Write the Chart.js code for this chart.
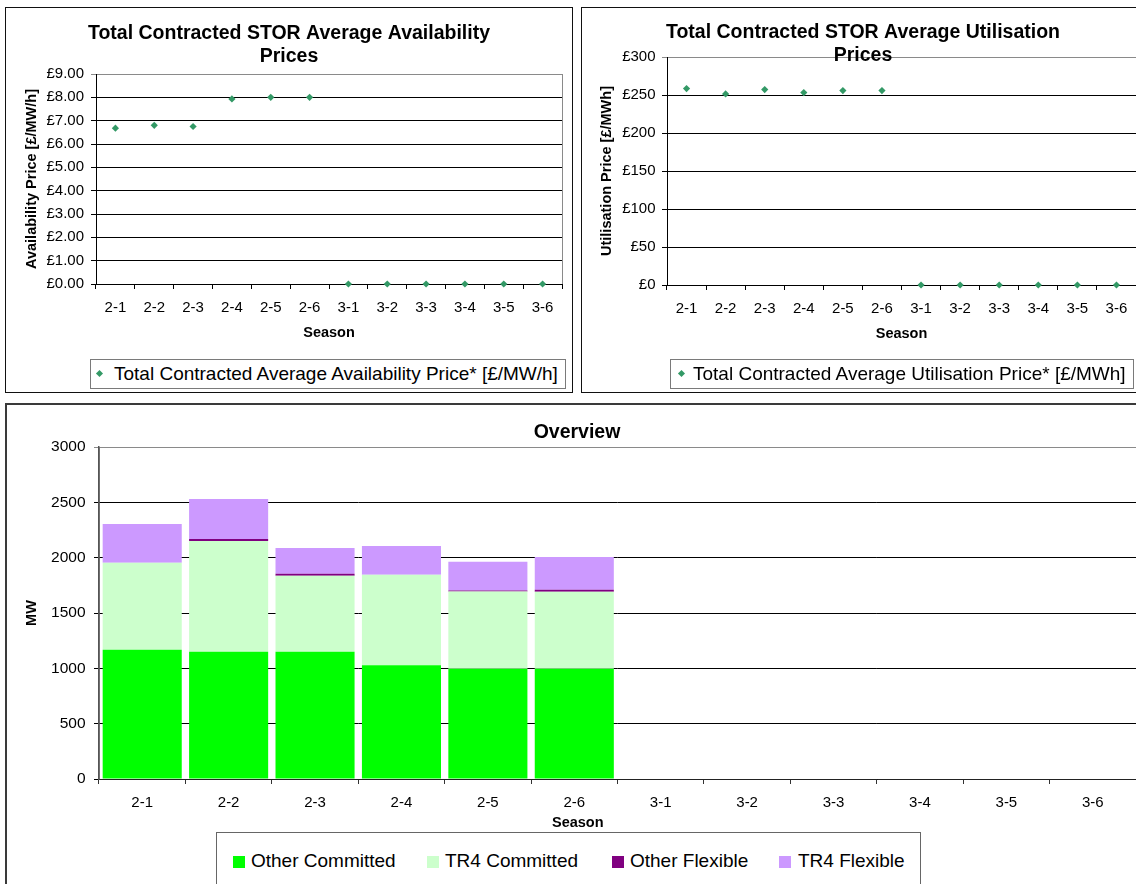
<!DOCTYPE html>
<html>
<head>
<meta charset="utf-8">
<script src="https://cdn.jsdelivr.net/npm/chart.js@4.4.1/dist/chart.umd.min.js"></script>
<style>
html,body{margin:0;padding:0;background:#fff;}
body{width:1136px;height:884px;overflow:hidden;position:relative;font-family:"Liberation Sans",Arial,Helvetica,sans-serif;color:#000;}
.frame{position:absolute;box-sizing:border-box;}
#frameA{left:5px;top:7px;width:568px;height:386px;border:1px solid #111;}
#frameB{left:581px;top:7px;width:580px;height:386px;border:1px solid #111;}
#frameC{left:5px;top:403px;width:1160px;height:500px;border:2px solid #3a3a3a;}
canvas{position:absolute;}
#cA{left:0;top:0;}
#cB{left:576px;top:0;}
#cC{left:0;top:400px;}
.leg{position:absolute;box-sizing:border-box;border:1px solid #7a7a7a;background:#fff;}
.legtxt{position:absolute;font-size:19px;line-height:22px;white-space:nowrap;}
.dia{position:absolute;width:5px;height:5px;background:#339966;transform:rotate(45deg);}
.sq{position:absolute;width:12px;height:12px;}
#seasonC{position:absolute;font-weight:bold;font-size:14.5px;line-height:18px;white-space:nowrap;}
</style>
</head>
<body>
<div class="frame" id="frameA"></div>
<div class="frame" id="frameB"></div>
<div class="frame" id="frameC"></div>

<canvas id="cA" width="576" height="396"></canvas>
<canvas id="cB" width="564" height="396"></canvas>
<canvas id="cC" width="1154" height="484"></canvas>

<div class="leg" id="legA" style="left:90px;top:359px;width:476px;height:30px;">
  <div class="dia" style="left:6px;top:11px;"></div>
  <div class="legtxt" id="legAtxt" style="left:23px;top:3px;"></div>
</div>
<div class="leg" id="legB" style="left:670px;top:359px;width:464px;height:30px;">
  <div class="dia" style="left:8px;top:11px;"></div>
  <div class="legtxt" id="legBtxt" style="left:22px;top:3px;"></div>
</div>
<div class="leg" id="legC" style="left:216px;top:832px;width:705px;height:70px;border-color:#666;">
</div>
<div id="seasonC" style="left:552px;top:813px;">Season</div>

<script>
// ---------------- DATA ----------------
const seasons = ['2-1','2-2','2-3','2-4','2-5','2-6','3-1','3-2','3-3','3-4','3-5','3-6'];

const availabilityPrice = [6.68, 6.80, 6.75, 7.93, 8.00, 8.00, 0, 0, 0, 0, 0, 0];
const utilisationPrice  = [258.4, 251.4, 257.1, 253.2, 255.8, 255.8, 0, 0, 0, 0, 0, 0];

const otherCommitted = [1168, 1150, 1150, 1027, 997, 997, 0, 0, 0, 0, 0, 0];
const tr4Committed   = [785, 1001, 686, 818, 697, 694, 0, 0, 0, 0, 0, 0];
const otherFlexible  = [0, 18, 18, 0, 9, 20, 0, 0, 0, 0, 0, 0];
const tr4Flexible    = [352, 361, 234, 261, 259, 295, 0, 0, 0, 0, 0, 0];

const titleA = ['Total Contracted STOR Average Availability', 'Prices'];
const titleB = ['Total Contracted STOR Average Utilisation', 'Prices'];
const titleC = 'Overview';
const legendA = 'Total Contracted Average Availability Price* [£/MW/h]';
const legendB = 'Total Contracted Average Utilisation Price* [£/MWh]';
const seriesNamesC = ['Other Committed', 'TR4 Committed', 'Other Flexible', 'TR4 Flexible'];
const seriesColorsC = ['#00ff00', '#ccffcc', '#800080', '#cc99ff'];
const markerColor = '#339966';

// ---------------- SETUP ----------------
const FONT = '"Liberation Sans", Arial, Helvetica, sans-serif';
Chart.defaults.font.family = FONT;
Chart.defaults.color = '#000';
Chart.defaults.animation = false;

const plotBorder = {
  id: 'plotBorder',
  beforeDraw(chart, args, opts) {
    const {ctx, chartArea: a} = chart;
    ctx.save();
    ctx.strokeStyle = opts.color || '#888';
    ctx.lineWidth = 1;
    ctx.strokeRect(Math.round(a.left) + 0.5, Math.round(a.top) + 0.5,
                   Math.round(a.right - a.left), Math.round(a.bottom - a.top));
    ctx.restore();
  }
};

function priceChart(id, labels, values, seriesLabel, title, yTitle, yMax, yStep, fmt, cfg) {
  return new Chart(document.getElementById(id), {
    type: 'line',
    data: {
      labels: labels,
      datasets: [{
        label: seriesLabel,
        data: values,
        showLine: false,
        pointStyle: 'rectRot',
        pointRadius: 3.6,
        pointBackgroundColor: markerColor,
        pointBorderColor: markerColor,
        pointBorderWidth: 0,
        clip: false
      }]
    },
    options: {
      responsive: false,
      animation: false,
      layout: {padding: {left: cfg.padL, right: cfg.padR, top: 0, bottom: 0}},
      plugins: {
        legend: {display: false},
        tooltip: {enabled: false},
        title: {
          display: true, text: title, color: '#000',
          font: {size: 19.5, weight: 'bold', lineHeight: 23 / 19.5},
          padding: {top: cfg.titleTop, bottom: cfg.titleBottom}
        },
        plotBorder: {color: '#8a8a8a'}
      },
      scales: {
        x: {
          offset: true,
          grid: {display: true, drawOnChartArea: false, drawTicks: true, tickLength: 5, offset: true, color: '#000'},
          border: {color: '#000'},
          ticks: {font: {size: 15}, padding: cfg.xPad, color: '#000', maxRotation: 0, autoSkip: false},
          title: {display: true, text: 'Season', color: '#000', font: {size: 14.5, weight: 'bold'}, padding: {top: 0, bottom: cfg.seasonPad}},
          afterFit(s) { s.height = cfg.xH; }
        },
        y: {
          min: 0, max: yMax,
          ticks: {stepSize: yStep, callback: fmt, font: {size: 15}, padding: cfg.yPad, color: '#000'},
          grid: {color: c => (c.tick && c.tick.value === yMax) ? '#8a8a8a' : '#000', tickLength: 5, drawTicks: true},
          border: {color: '#000'},
          title: {display: true, text: yTitle, color: '#000', font: {size: 14.5, weight: 'bold'}, padding: {top: cfg.yTitlePad, bottom: 0}},
          afterFit(s) { s.width = cfg.yW; }
        }
      }
    },
    plugins: [plotBorder]
  });
}

priceChart('cA', seasons, availabilityPrice, legendA, titleA, 'Availability Price [£/MW/h]', 9, 1,
  v => '£' + Number(v).toFixed(2),
  {padL: 16, padR: 14, titleTop: 22.5, titleBottom: 5.5, xPad: 10, seasonPad: 54.3, xH: 112, yPad: 7, yTitlePad: 7.3, yW: 80});

priceChart('cB', seasons, utilisationPrice, legendB, titleB, 'Utilisation Price [£/MWh]', 300, 50,
  v => '£' + Number(v).toFixed(0),
  {padL: 13, padR: 3, titleTop: 21.5, titleBottom: -10.5, xPad: 9.5, seasonPad: 53.3, xH: 111, yPad: 6.5, yTitlePad: 8.8, yW: 78});

new Chart(document.getElementById('cC'), {
  type: 'bar',
  data: {
    labels: seasons,
    datasets: [
      {label: seriesNamesC[0], data: otherCommitted, backgroundColor: seriesColorsC[0]},
      {label: seriesNamesC[1], data: tr4Committed, backgroundColor: seriesColorsC[1]},
      {label: seriesNamesC[2], data: otherFlexible, backgroundColor: seriesColorsC[2]},
      {label: seriesNamesC[3], data: tr4Flexible, backgroundColor: seriesColorsC[3]}
    ]
  },
  options: {
    responsive: false,
    animation: false,
    datasets: {bar: {barPercentage: 0.915, categoryPercentage: 1, borderWidth: 0}},
    layout: {padding: {left: 18, right: 18, top: 0, bottom: 0}},
    plugins: {
      legend: {display: false},
      tooltip: {enabled: false},
      title: {
        display: true, text: titleC, color: '#000',
        font: {size: 19.5, weight: 'bold', lineHeight: 23 / 19.5},
        padding: {top: 21.5, bottom: 2.5}
      },
      plotBorder: {color: '#8a8a8a'}
    },
    scales: {
      x: {
        stacked: true,
        grid: {display: true, drawOnChartArea: false, drawTicks: true, tickLength: 5, offset: true, color: '#333'},
        border: {color: '#222'},
        ticks: {font: {size: 15}, padding: 10, color: '#000', maxRotation: 0, autoSkip: false},
        title: {display: false, text: 'Season'},
        afterFit(s) { s.height = 105; }
      },
      y: {
        stacked: true,
        min: 0, max: 3000,
        ticks: {stepSize: 500, callback: v => String(v), font: {size: 15.5}, padding: 8.5, color: '#000'},
        grid: {color: c => (c.tick && c.tick.value === 3000) ? '#8a8a8a' : '#000', tickLength: 5, drawTicks: true},
        border: {color: '#555', width: 1.5},
        title: {display: true, text: 'MW', color: '#000', font: {size: 14.5, weight: 'bold'}, padding: {top: 4.9, bottom: 0}},
        afterFit(s) { s.width = 81; }
      }
    }
  },
  plugins: [plotBorder]
});

// ---------------- HTML legends ----------------
document.getElementById('legAtxt').textContent = legendA;
document.getElementById('legBtxt').textContent = legendB;
const legC = document.getElementById('legC');
const sqX = [16, 210, 395, 562];
const txX = [34, 228, 413, 581];
seriesNamesC.forEach((name, i) => {
  const sq = document.createElement('div');
  sq.className = 'sq';
  sq.style.left = sqX[i] + 'px';
  sq.style.top = '23px';
  sq.style.background = seriesColorsC[i];
  legC.appendChild(sq);
  const t = document.createElement('div');
  t.className = 'legtxt';
  t.style.left = txX[i] + 'px';
  t.style.top = '17px';
  t.textContent = name;
  legC.appendChild(t);
});
</script>
</body>
</html>
